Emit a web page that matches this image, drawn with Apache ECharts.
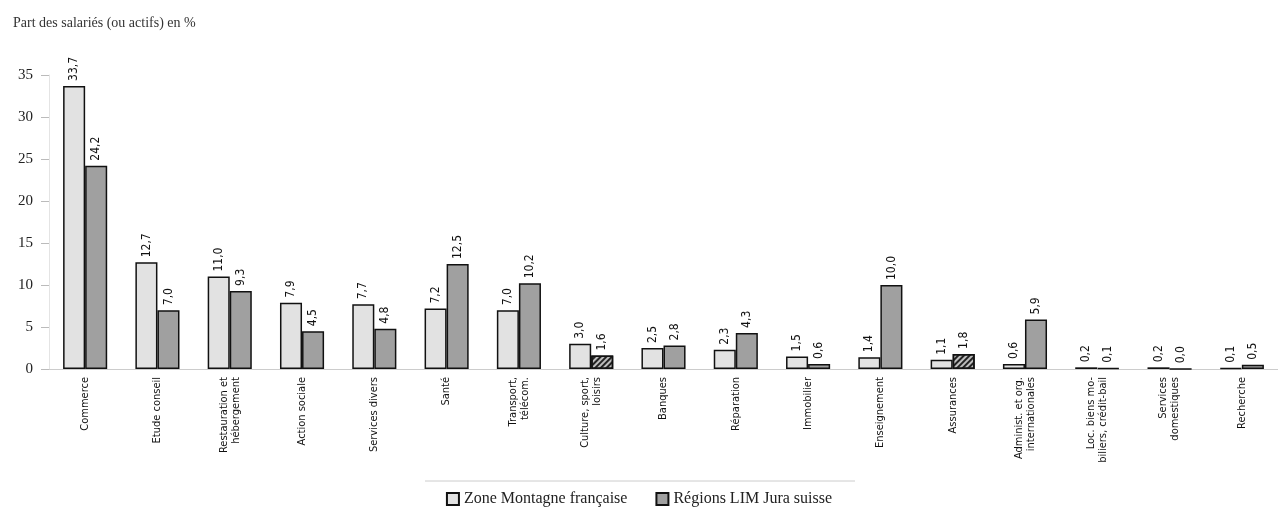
<!DOCTYPE html>
<html>
<head>
<meta charset="utf-8">
<script src="https://cdn.jsdelivr.net/npm/echarts@6/dist/echarts.min.js"></script>
<style>html,body{margin:0;padding:0;background:#fff;}#c{width:1278px;height:512px;}</style>
</head>
<body>
<div id="c"></div>
<script>
const categories = [
  'Commerce', 'Etude conseil', 'Restauration et\nhébergement', 'Action sociale',
  'Services divers', 'Santé', 'Transport,\ntélécom.', 'Culture, sport,\nloisirs',
  'Banques', 'Réparation', 'Immobilier', 'Enseignement', 'Assurances',
  'Administ. et org.\ninternationales', 'Loc. biens mo-\nbiliers, crédit-bail',
  'Services\ndomestiques', 'Recherche'
];
const zoneMontagne = [33.7, 12.7, 11.0, 7.9, 7.7, 7.2, 7.0, 3.0, 2.5, 2.3, 1.5, 1.4, 1.1, 0.6, 0.2, 0.2, 0.1];
const regionsJura = [24.2, 7.0, 9.3, 4.5, 4.8, 12.5, 10.2, 1.6, 2.8, 4.3, 0.6, 10.0, 1.8, 5.9, 0.1, 0.0, 0.5];
const yTicks = [0, 5, 10, 15, 20, 25, 30, 35];
const seriesNames = ['Zone Montagne française', 'Régions LIM Jura suisse'];
const yTitle = 'Part des salariés (ou actifs) en %';

const hatchedIdx = [7, 12];
const hatchDecal = {symbol: 'rect', symbolSize: 1, dashArrayX: [1, 0], dashArrayY: [1.5, 2], rotation: -Math.PI / 4, color: '#222'};

const fmt = p => p.value.toFixed(1).replace('.', ',');
const labelCfg = {
  show: true, position: 'top', rotate: 90, align: 'left', verticalAlign: 'middle',
  distance: 5, formatter: fmt, fontSize: 12, color: '#111',
  fontFamily: "'Liberation Sans Narrow', 'DejaVu Sans Condensed', sans-serif"
};

const chart = echarts.init(document.getElementById('c'), null, {renderer: 'canvas'});
chart.setOption({
  animation: false,
  backgroundColor: '#fff',
  title: {
    text: yTitle, left: 8, top: 11,
    textStyle: {fontFamily: "'Liberation Serif', serif", fontSize: 14, fontWeight: 'normal', color: '#333'}
  },
  legend: {
    data: seriesNames, top: 486, left: 'center', itemWidth: 12, itemHeight: 12, itemGap: 28,
    icon: 'rect',
    textStyle: {fontFamily: "'Liberation Serif', serif", fontSize: 16, color: '#222'}
  },
  graphic: [{
    type: 'line', shape: {x1: 425, y1: 481, x2: 855, y2: 481},
    style: {stroke: '#ccc', lineWidth: 1}
  }],
  grid: {left: 49, right: 0, top: 75, bottom: 143},
  xAxis: {
    type: 'category', data: categories,
    axisLine: {lineStyle: {color: '#ccc'}},
    axisTick: {show: false},
    axisLabel: {
      rotate: 90, interval: 0, margin: 8, fontSize: 11, color: '#111', lineHeight: 12,
      fontFamily: "'Liberation Sans Narrow', 'DejaVu Sans Condensed', sans-serif"
    }
  },
  yAxis: {
    type: 'value', min: 0, max: 35, interval: 5,
    axisLine: {show: true, lineStyle: {color: '#e4e4e4'}},
    axisTick: {show: true, length: 8, lineStyle: {color: '#bbb'}},
    splitLine: {show: false},
    axisLabel: {
      margin: 16, fontSize: 15, color: '#222',
      fontFamily: "'Liberation Serif', serif",
      formatter: v => yTicks.includes(v) ? String(v) : ''
    }
  },
  series: [
    {
      name: seriesNames[0], type: 'bar', data: zoneMontagne,
      barGap: '0%', barCategoryGap: '39%',
      itemStyle: {color: '#e2e2e2', borderColor: '#111', borderWidth: 1.5},
      label: labelCfg
    },
    {
      name: seriesNames[1], type: 'bar',
      data: regionsJura.map((v, i) => hatchedIdx.includes(i)
        ? {value: v, itemStyle: {decal: hatchDecal, color: '#bdbdbd'}} : v),
      itemStyle: {color: '#a0a0a0', borderColor: '#111', borderWidth: 1.5},
      label: labelCfg
    }
  ]
});
</script>
</body>
</html>
